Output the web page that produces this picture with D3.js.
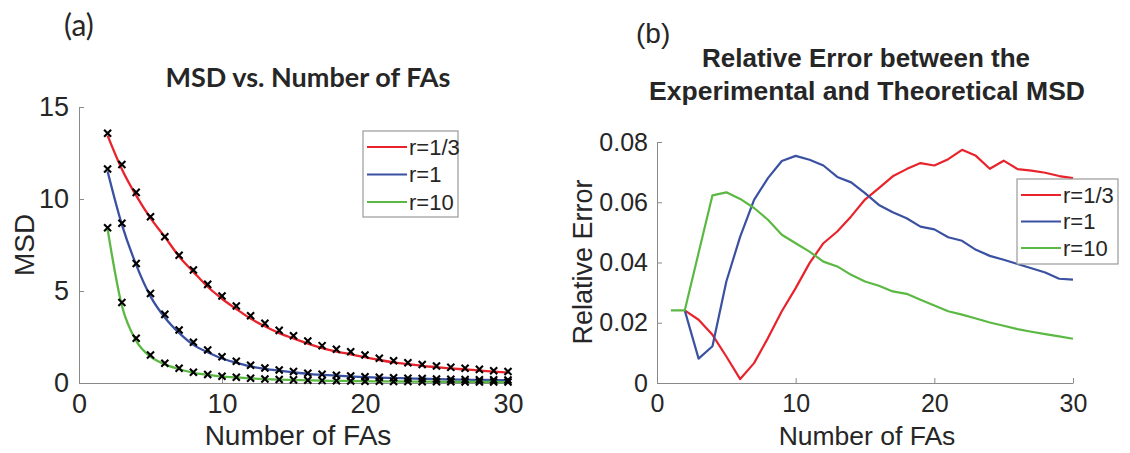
<!DOCTYPE html>
<html>
<head>
<meta charset="utf-8">
<script src="https://cdn.jsdelivr.net/npm/d3@7"></script>
<style>
  body { margin: 0; background: #fff; }
  text { font-family: "Liberation Sans", Arial, sans-serif; fill: #262626; }
  .axis path, .axis line { stroke: #8a8a8a; }
</style>
</head>
<body>
<div id="chart"></div>
<script>
// ---- panel (a) data: MSD vs number of FAs ----
var msdX = [2, 3, 4, 5, 6, 7, 8, 9, 10, 11, 12, 13, 14, 15, 16, 17, 18, 19, 20, 21, 22, 23, 24, 25, 26, 27, 28, 29, 30];
// theoretical curves
var msdLineR13 = [13.45, 11.62, 10.18, 8.96, 7.94, 6.88, 6.04, 5.23, 4.58, 4.02, 3.50, 3.08, 2.71, 2.42, 2.14, 1.90, 1.71, 1.56, 1.40, 1.25, 1.12, 1.02, 0.93, 0.86, 0.79, 0.74, 0.68, 0.62, 0.57];
var msdLineR1 = [11.50, 8.61, 6.42, 4.71, 3.56, 2.72, 2.07, 1.67, 1.33, 1.10, 0.90, 0.77, 0.67, 0.58, 0.50, 0.445, 0.40, 0.36, 0.32, 0.29, 0.27, 0.25, 0.23, 0.21, 0.19, 0.18, 0.17, 0.16, 0.15];
var msdLineR10 = [8.35, 4.20, 2.29, 1.43, 1.01, 0.76, 0.55, 0.44, 0.35, 0.30, 0.25, 0.21, 0.18, 0.16, 0.145, 0.126, 0.117, 0.107, 0.098, 0.088, 0.083, 0.078, 0.073, 0.069, 0.064, 0.059, 0.057, 0.054, 0.049];
// experimental points (x markers)
var msdMarkR13 = [13.57, 11.88, 10.36, 9.04, 7.95, 6.94, 6.14, 5.36, 4.73, 4.18, 3.66, 3.24, 2.86, 2.57, 2.28, 2.03, 1.83, 1.70, 1.52, 1.34, 1.21, 1.10, 1.01, 0.92, 0.85, 0.80, 0.74, 0.67, 0.62];
var msdMarkR1 = [11.63, 8.68, 6.50, 4.87, 3.73, 2.88, 2.21, 1.79, 1.43, 1.18, 0.96, 0.82, 0.71, 0.62, 0.53, 0.47, 0.42, 0.38, 0.34, 0.31, 0.28, 0.26, 0.24, 0.22, 0.20, 0.19, 0.18, 0.17, 0.16];
var msdMarkR10 = [8.44, 4.38, 2.43, 1.52, 1.07, 0.80, 0.58, 0.46, 0.37, 0.31, 0.26, 0.22, 0.19, 0.17, 0.15, 0.13, 0.12, 0.11, 0.10, 0.09, 0.085, 0.08, 0.075, 0.07, 0.065, 0.06, 0.058, 0.055, 0.05];

// ---- panel (b) data: relative error ----
var errX = [1, 2, 3, 4, 5, 6, 7, 8, 9, 10, 11, 12, 13, 14, 15, 16, 17, 18, 19, 20, 21, 22, 23, 24, 25, 26, 27, 28, 29, 30];
var errR13 = [null, 0.0241, 0.0210, 0.0160, 0.0088, 0.0013, 0.0066, 0.0149, 0.0238, 0.0315, 0.0398, 0.0464, 0.0503, 0.0553, 0.0609, 0.0647, 0.0686, 0.0710, 0.0730, 0.0722, 0.0743, 0.0774, 0.0754, 0.0711, 0.0738, 0.0710, 0.0705, 0.0698, 0.0687, 0.0680];
var errR1 = [null, 0.0241, 0.0081, 0.0122, 0.0337, 0.0486, 0.0608, 0.0680, 0.0737, 0.0754, 0.0741, 0.0722, 0.0684, 0.0666, 0.0630, 0.0591, 0.0567, 0.0547, 0.0519, 0.0510, 0.0484, 0.0472, 0.0442, 0.0422, 0.0409, 0.0395, 0.0381, 0.0367, 0.0346, 0.0343];
var errR10 = [0.0241, 0.0241, 0.0432, 0.0623, 0.0633, 0.0611, 0.0581, 0.0542, 0.0492, 0.0464, 0.0436, 0.0403, 0.0387, 0.0359, 0.0337, 0.0323, 0.0304, 0.0296, 0.0276, 0.0257, 0.0238, 0.0227, 0.0214, 0.0201, 0.0190, 0.0179, 0.0170, 0.0162, 0.0155, 0.0147];

var seriesNames = ["r=1/3", "r=1", "r=10"];
var seriesColors = ["#e8232b", "#3a51a2", "#5bb943"];
var xTicks = [0, 10, 20, 30];
var msdTicks = [0, 5, 10, 15];
var errTicks = [0, 0.02, 0.04, 0.06, 0.08];

var svg = d3.select("#chart").append("svg")
    .attr("width", 1130)
    .attr("height", 453);

// draw a legend box with three entries
function drawLegend(g, x, y, w, h, rowGap, fontSize) {
    g.append("rect")
        .attr("x", x).attr("y", y)
        .attr("width", w).attr("height", h)
        .attr("fill", "#fff")
        .attr("stroke", "#9a9a9a")
        .attr("stroke-width", 1.2);
    seriesNames.forEach(function(name, i) {
        var cy = y + 16 + i * rowGap;
        g.append("line")
            .attr("x1", x + 4).attr("x2", x + 44)
            .attr("y1", cy).attr("y2", cy)
            .attr("stroke", seriesColors[i])
            .attr("stroke-width", 2);
        g.append("text")
            .attr("x", x + 46).attr("y", cy)
            .attr("dy", "0.36em")
            .attr("font-size", fontSize)
            .text(name);
    });
}

// ================= panel (a) =================
var xA = d3.scaleLinear().domain([0, 30]).range([79, 508]);
var yA = d3.scaleLinear().domain([0, 15]).range([383, 107]);

var axA = svg.append("g")
    .attr("class", "axis")
    .attr("transform", "translate(0,383)")
    .call(d3.axisBottom(xA).tickValues(xTicks).tickSizeInner(-5).tickSizeOuter(0).tickPadding(11));
axA.selectAll("text").attr("font-size", "27px").attr("fill", "#262626");

var ayA = svg.append("g")
    .attr("class", "axis")
    .attr("transform", "translate(79,0)")
    .call(d3.axisLeft(yA).tickValues(msdTicks).tickSizeInner(-5).tickSizeOuter(0).tickPadding(10));
ayA.selectAll("text").attr("font-size", "27px").attr("fill", "#262626");
svg.selectAll(".axis .domain").attr("stroke", "#8a8a8a");

var msdLines = [msdLineR13, msdLineR1, msdLineR10];
var msdMarks = [msdMarkR13, msdMarkR1, msdMarkR10];

var lineA = d3.line()
    .x(function(d) { return xA(d[0]); })
    .y(function(d) { return yA(d[1]); })
    .curve(d3.curveMonotoneX);

msdLines.forEach(function(vals, i) {
    svg.append("path")
        .datum(msdX.map(function(x, j) { return [x, vals[j]]; }))
        .attr("fill", "none")
        .attr("stroke", seriesColors[i])
        .attr("stroke-width", 2.3)
        .attr("d", lineA);
});

// black x markers
var xMark = d3.symbol().type(d3.symbolX).size(34);
msdMarks.forEach(function(vals) {
    svg.append("g").selectAll("path")
        .data(msdX.map(function(x, j) { return [x, vals[j]]; }))
        .enter()
        .append("path")
        .attr("d", xMark)
        .attr("transform", function(d) { return "translate(" + xA(d[0]) + "," + yA(d[1]) + ")"; })
        .attr("fill", "none")
        .attr("stroke", "#000")
        .attr("stroke-width", 2.1);
});

drawLegend(svg.append("g"), 363, 131, 95, 86, 27.5, "22px");

svg.append("text")
    .attr("transform", "translate(34,245) rotate(-90)")
    .attr("text-anchor", "middle")
    .attr("font-size", "28px")
    .text("MSD");

svg.append("text")
    .attr("x", 298).attr("y", 445)
    .attr("text-anchor", "middle")
    .attr("font-size", "28px")
    .text("Number of FAs");

svg.append("text")
    .attr("x", 308).attr("y", 87)
    .attr("text-anchor", "middle")
    .attr("font-size", "27px")
    .style("font-family", "Lato, 'Open Sans', sans-serif")
    .attr("font-weight", "bold")
    .text("MSD vs. Number of FAs");

svg.append("text")
    .attr("x", 64).attr("y", 36)
    .attr("font-size", "30px")
    .style("font-family", "Lato, 'Open Sans', sans-serif")
    .text("(a)");

// ================= panel (b) =================
var xB = d3.scaleLinear().domain([0, 30]).range([657, 1073]);
var yB = d3.scaleLinear().domain([0, 0.08]).range([383, 142]);

var axB = svg.append("g")
    .attr("class", "axis")
    .attr("transform", "translate(0,383)")
    .call(d3.axisBottom(xB).tickValues(xTicks).tickSizeInner(-5).tickSizeOuter(0).tickPadding(11));
axB.selectAll("text").attr("font-size", "25px").attr("fill", "#262626");

var ayB = svg.append("g")
    .attr("class", "axis")
    .attr("transform", "translate(657,0)")
    .call(d3.axisLeft(yB).tickValues(errTicks).tickFormat(function(d) { return d === 0 ? "0" : d3.format(".2f")(d); })
        .tickSizeInner(-5).tickSizeOuter(0).tickPadding(9));
ayB.selectAll("text").attr("font-size", "25px").attr("fill", "#262626");
svg.selectAll(".axis .domain").attr("stroke", "#8a8a8a");

var errSeries = [errR13, errR1, errR10];
var lineB = d3.line()
    .defined(function(d) { return d[1] !== null; })
    .x(function(d) { return xB(d[0]); })
    .y(function(d) { return yB(d[1]); });

errSeries.forEach(function(vals, i) {
    svg.append("path")
        .datum(errX.map(function(x, j) { return [x, vals[j]]; }))
        .attr("fill", "none")
        .attr("stroke", seriesColors[i])
        .attr("stroke-width", 2.2)
        .attr("stroke-linejoin", "round")
        .attr("d", lineB);
});

drawLegend(svg.append("g"), 1017, 179, 101, 85, 26.5, "22px");

svg.append("text")
    .attr("transform", "translate(592,262) rotate(-90)")
    .attr("text-anchor", "middle")
    .attr("font-size", "27px")
    .text("Relative Error");

svg.append("text")
    .attr("x", 867).attr("y", 445)
    .attr("text-anchor", "middle")
    .attr("font-size", "26.5px")
    .text("Number of FAs");

svg.append("text")
    .attr("x", 866).attr("y", 67)
    .attr("text-anchor", "middle")
    .attr("font-size", "26px")
    .attr("font-weight", "bold")
    .text("Relative Error between the");

svg.append("text")
    .attr("x", 867).attr("y", 100)
    .attr("text-anchor", "middle")
    .attr("font-size", "26.5px")
    .attr("font-weight", "bold")
    .text("Experimental and Theoretical MSD");

svg.append("text")
    .attr("x", 636).attr("y", 43)
    .attr("font-size", "28px")
    .text("(b)");
</script>
</body>
</html>
